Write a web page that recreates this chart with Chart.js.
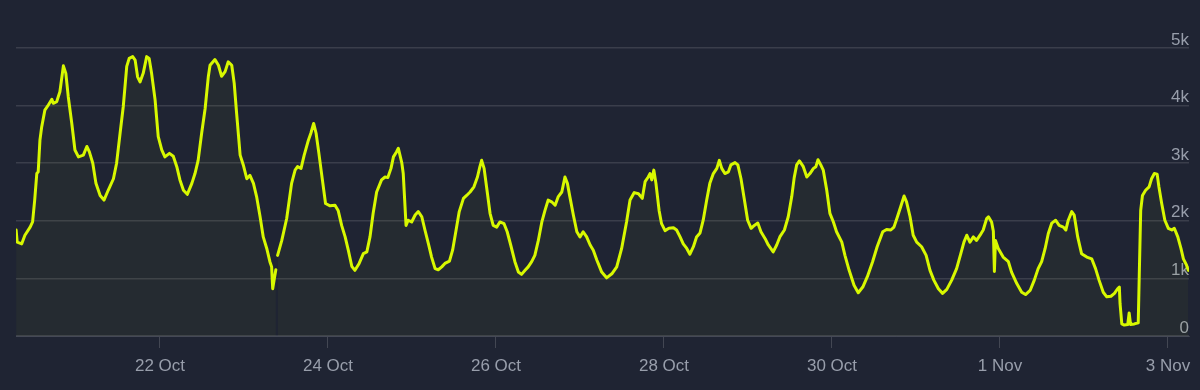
<!DOCTYPE html>
<html>
<head>
<meta charset="utf-8">
<script src="https://cdn.jsdelivr.net/npm/chart.js@4.4.0/dist/chart.umd.min.js"></script>
<style>
    html, body { margin: 0; padding: 0; background: #1f2433; }
    #wrap { width: 1200px; height: 390px; position: relative; }
</style>
</head>
<body>
<div id="wrap"><canvas id="myChart"></canvas></div>
<script>
// hours since 20 Oct 00:00
const hours = [
    6.9, 7.2, 8.5, 9.4, 10.9, 11.6, 12.2, 12.8, 13.2, 13.7, 14.2, 15.1, 16.1, 17.1, 17.5, 18.5, 19.4, 20.4, 21.1, 21.8,
    22.8, 23.7, 24.7, 26.1, 27.1, 27.8, 28.8, 29.7, 30.9, 32.0, 33.2, 34.7, 35.6, 36.6, 37.5, 38.5, 39.2, 40.2, 40.9, 41.6,
    42.3, 43.2, 44.2, 44.9, 45.6, 46.6, 47.5, 48.5, 49.4, 50.7, 51.8, 52.8, 53.7, 54.7, 55.8, 57.1, 58.0, 58.9, 59.9, 60.9,
    61.8, 62.3, 63.7, 64.7, 65.6, 66.6, 67.5, 68.5, 69.2, 69.9, 70.9, 71.8, 72.8, 73.7, 74.7, 75.6, 76.6, 77.5, 78.5, 79.4,
    79.9, 80.2, 80.6, 81.1, 81.3, 81.6, 82.8, 84.2, 85.6, 86.6, 87.3, 88.3, 89.2, 90.4, 91.1, 91.9, 92.6, 93.4, 94.4, 95.3,
    96.6, 98.0, 98.9, 99.9, 100.9, 101.8, 102.8, 103.7, 104.9, 106.1, 107.1, 108.0, 108.9, 109.9, 111.3, 112.3, 113.1, 114.0, 114.7, 115.6,
    116.1, 117.1, 117.5, 118.3, 118.9, 119.9, 120.9, 121.8, 122.8, 123.7, 124.7, 125.6, 126.6, 127.5, 128.5, 129.4, 130.7, 131.6, 132.6, 133.5,
    134.7, 135.6, 136.6, 137.7, 138.7, 139.4, 139.9, 140.6, 141.3, 142.3, 143.2, 144.2, 145.1, 146.3, 147.2, 148.2, 149.4, 150.4, 151.3, 152.3,
    153.2, 154.2, 155.1, 156.1, 157.1, 158.0, 158.9, 159.9, 160.9, 161.8, 162.8, 163.7, 164.4, 165.1, 166.1, 167.1, 168.0, 168.9, 169.9, 170.9,
    171.8, 172.8, 173.2, 174.2, 175.6, 177.1, 178.5, 179.9, 181.3, 182.3, 183.5, 184.7, 185.8, 186.6, 187.5, 188.0, 188.5, 189.1, 189.7, 190.6,
    191.3, 192.3, 193.4, 194.7, 195.6, 196.6, 197.5, 198.5, 199.4, 200.4, 201.3, 202.3, 203.2, 204.2, 205.1, 206.1, 207.1, 207.8, 208.5, 209.4,
    210.4, 211.1, 212.3, 213.1, 214.0, 214.9, 215.9, 216.9, 217.8, 218.8, 219.7, 220.9, 221.8, 223.2, 224.2, 225.1, 226.4, 227.5, 228.5, 229.2,
    229.9, 230.7, 231.8, 232.8, 233.7, 234.7, 235.4, 236.0, 236.8, 237.5, 238.5, 239.4, 240.4, 241.3, 242.8, 243.7, 244.9, 246.3, 247.5, 248.8,
    250.1, 251.6, 252.9, 254.5, 255.6, 256.8, 257.7, 258.7, 259.6, 260.6, 261.3, 262.3, 263.2, 264.2, 265.6, 266.9, 268.0, 269.1, 270.4, 271.6,
    272.8, 274.2, 275.6, 276.8, 277.7, 278.5, 279.4, 280.4, 281.3, 282.3, 283.2, 284.2, 284.7, 285.6, 286.1, 286.4, 286.7, 287.5, 288.9, 290.4,
    291.3, 292.8, 294.2, 295.3, 296.6, 297.8, 298.9, 299.9, 300.9, 301.8, 302.8, 303.9, 304.9, 306.1, 306.8, 307.5, 308.5, 309.2, 310.2, 311.3,
    312.8, 314.2, 315.3, 316.3, 317.5, 318.5, 319.7, 320.7, 321.6, 322.1, 322.3, 322.8, 323.5, 324.5, 324.9, 325.3, 326.4, 327.5, 327.8, 328.2,
    328.7, 329.6, 330.6, 331.3, 332.1, 332.9, 333.4, 334.2, 335.1, 336.1, 337.1, 337.8, 338.8, 339.7, 340.4, 341.3, 341.8
]

// concurrent players (null = missing sample)
const players = [
    1840, 1630, 1600, 1750, 1890, 1980, 2360, 2820, 2850, 3400, 3630, 3920, 4010, 4110, 4040, 4070, 4240, 4690, 4560, 4150,
    3690, 3230, 3110, 3140, 3290, 3200, 3000, 2650, 2440, 2360, 2530, 2730, 3000, 3520, 3980, 4680, 4820, 4850, 4790, 4500,
    4410, 4560, 4850, 4820, 4560, 4100, 3460, 3230, 3110, 3170, 3120, 2940, 2710, 2530, 2460, 2650, 2820, 3050, 3520, 3950,
    4500, 4700, 4800, 4700, 4510, 4590, 4760, 4700, 4390, 3860, 3140, 2970, 2730, 2790, 2650, 2420, 2070, 1720, 1520, 1290,
    1200, 820, 970, 1150, null, 1400, 1660, 2040, 2650, 2880, 2940, 2910, 3140, 3400, 3520, 3690, 3520, 3170, 2710, 2300,
    2260, 2270, 2180, 1920, 1720, 1490, 1210, 1140, 1260, 1430, 1460, 1720, 2130, 2500, 2710, 2760, 2750, 2910, 3110, 3200,
    3260, 3000, 2820, 1920, 2010, 1980, 2100, 2160, 2070, 1840, 1600, 1370, 1170, 1150, 1200, 1260, 1300, 1490, 1840, 2160,
    2390, 2440, 2500, 2590, 2760, 2940, 3050, 2910, 2590, 2130, 1920, 1890, 1980, 1950, 1810, 1580, 1290, 1110, 1070, 1140,
    1200, 1290, 1400, 1660, 1980, 2180, 2360, 2330, 2270, 2420, 2500, 2760, 2650, 2420, 2100, 1810, 1720, 1810, 1720, 1580,
    1490, 1320, 1260, 1110, 1010, 1080, 1200, 1520, 1980, 2360, 2490, 2470, 2390, 2680, 2760, 2820, 2710, 2880, 2650, 2180,
    1950, 1830, 1870, 1880, 1840, 1720, 1600, 1520, 1420, 1550, 1720, 1790, 2010, 2360, 2650, 2820, 2910, 3050, 2910, 2820,
    2850, 2970, 3010, 2970, 2730, 2390, 2010, 1870, 1920, 1960, 1810, 1690, 1580, 1460, 1580, 1720, 1840, 2070, 2420, 2750,
    2970, 3040, 2940, 2760, 2820, 2910, 2940, 3060, 2970, 2880, 2530, 2130, 1980, 1810, 1630, 1400, 1140, 880, 750, 850,
    1030, 1290, 1550, 1810, 1850, 1840, 1890, 2070, 2240, 2430, 2330, 2070, 1750, 1630, 1550, 1400, 1140, 970, 820, 740,
    810, 970, 1170, 1430, 1630, 1750, 1630, 1720, 1660, 1750, 1840, 2040, 2070, 1980, 1820, 1120, 1660, 1520, 1370, 1290,
    1110, 910, 760, 720, 790, 970, 1170, 1290, 1520, 1780, 1960, 2010, 1920, 1890, 1840, 2010, 2160, 2100, 1720, 1430,
    1370, 1340, 1170, 970, 760, 680, 690, 740, 820, 850, 560, 210, 190, 200, 400, 200, 210, 230, 1080, 2180,
    2440, 2530, 2590, 2730, 2820, 2810, 2590, 2300, 2010, 1870, 1840, 1870, 1720, 1520, 1340, 1230, 1140
]

// axis ticks
const tickHours = [48, 96, 144, 192, 240, 288, 336]
const tickLabels = ['22 Oct', '24 Oct', '26 Oct', '28 Oct', '30 Oct', '1 Nov', '3 Nov']
const yTicks = [0, 1000, 2000, 3000, 4000, 5000]
const yLabels = ['0', '1k', '2k', '3k', '4k', '5k']

const lineColor = '#d8f800'
const gridColor = 'rgba(255, 255, 255, 0.12)'
const textColor = '#989eab'
const font = { family: "'Liberation Sans', Arial, sans-serif", size: 17 }

var points = []
for (let i = 0; i < hours.length; i++) {
    points.push({ x: hours[i], y: players[i] })
}

const canvas = document.getElementById('myChart')

var data = {
    datasets: [
        {
            data: points,
            borderColor: lineColor,
            borderWidth: 3,
            borderJoinStyle: 'round',
            borderCapStyle: 'round',
            backgroundColor: 'rgba(216, 248, 0, 0.035)',
            fill: 'origin',
            pointRadius: 0,
            tension: 0,
            spanGaps: false,
        },
    ],
}

var options = {
    responsive: true,
    maintainAspectRatio: false,
    animation: false,
    layout: {
        padding: { left: 16, right: 11, top: 48, bottom: 0 }
    },
    plugins: {
        legend: { display: false },
        tooltip: { enabled: false },
    },
    scales: {
        x: {
            type: 'linear',
            min: 6.86,
            max: 342,
            afterBuildTicks: (scale) => {
                scale.ticks = tickHours.map((h) => ({ value: h }))
            },
            afterFit: (scale) => {
                scale.height = 54
            },
            ticks: {
                color: textColor,
                font: font,
                padding: 8,
                maxRotation: 0,
                autoSkip: false,
                callback: (value) => tickLabels[tickHours.indexOf(value)],
            },
            grid: {
                drawOnChartArea: false,
                drawTicks: true,
                tickLength: 12,
                color: 'rgba(255, 255, 255, 0.16)',
            },
            border: { display: true, color: gridColor },
        },
        y: {
            position: 'right',
            min: 0,
            max: 5000,
            afterBuildTicks: (scale) => {
                scale.ticks = yTicks.map((v) => ({ value: v }))
            },
            afterFit: (scale) => {
                scale.width = 0
            },
            ticks: {
                mirror: true,
                padding: 0,
                labelOffset: -8,
                color: textColor,
                font: font,
                callback: (value) => yLabels[yTicks.indexOf(value)],
            },
            grid: {
                color: gridColor,
                lineWidth: 1.5,
                drawTicks: false,
            },
            border: { display: false },
        },
    },
}

var myChart = new Chart(canvas, { type: 'line', data: data, options: options })
</script>
</body>
</html>
